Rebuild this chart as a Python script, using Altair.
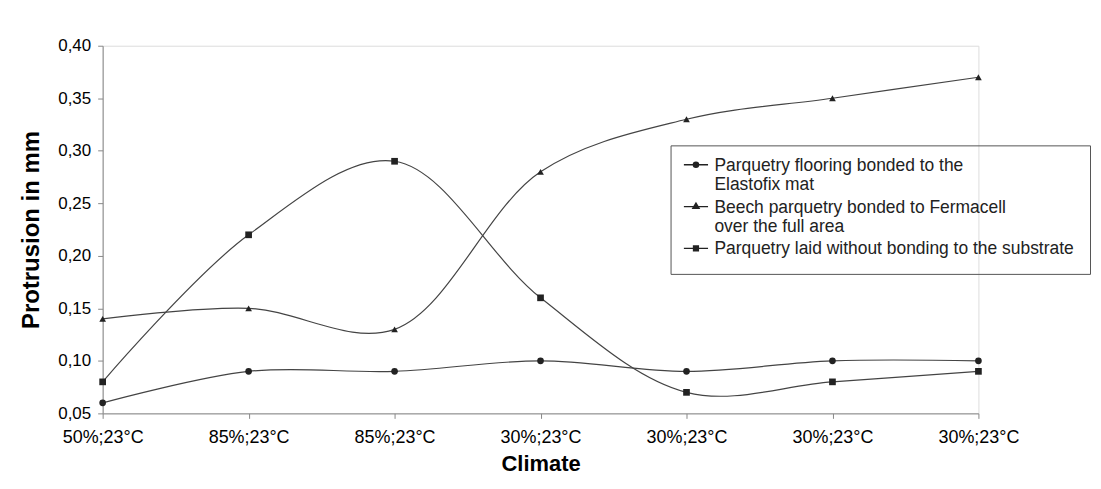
import altair as alt
import pandas as pd

climates = ["50%;23°C", "85%;23°C", "85%;23°C", "30%;23°C", "30%;23°C", "30%;23°C", "30%;23°C"]
series_names = [
    "Parquetry flooring bonded to the|Elastofix mat",
    "Beech parquetry bonded to Fermacell|over the full area",
    "Parquetry laid without bonding to the substrate",
]
elastofix = [0.06, 0.09, 0.09, 0.10, 0.09, 0.10, 0.10]
fermacell = [0.14, 0.15, 0.13, 0.28, 0.33, 0.35, 0.37]
unbonded = [0.08, 0.22, 0.29, 0.16, 0.07, 0.08, 0.09]
y_ticks = [0.05, 0.10, 0.15, 0.20, 0.25, 0.30, 0.35, 0.40]

rows = []
for name, vals in zip(series_names, [elastofix, fermacell, unbonded]):
    for i, v in enumerate(vals):
        rows.append({"idx": i, "value": v, "series": name})
df = pd.DataFrame(rows)

label_array = "[" + ",".join("'" + c + "'" for c in climates) + "]"
FONT = "Liberation Sans"

x_enc = alt.X(
    "idx:Q",
    scale=alt.Scale(domain=[0, 6], nice=False, zero=False),
    axis=alt.Axis(
        values=list(range(7)),
        labelExpr=label_array + "[datum.value]",
        labelFlush=False,
        labelOverlap=False,
        title="Climate",
        grid=False,
        labelFontSize=18,
        labelPadding=10,
        titleFontSize=22,
        titlePadding=7,
        tickSize=5,
    ),
)
y_enc = alt.Y(
    "value:Q",
    scale=alt.Scale(domain=[0.05, 0.40], nice=False, zero=False),
    axis=alt.Axis(
        values=y_ticks,
        labelExpr="replace(format(datum.value, '.2f'), '.', ',')",
        labelFlush=False,
        title="Protrusion in mm",
        grid=False,
        labelFontSize=17,
        labelPadding=7,
        titleFontSize=24,
        titlePadding=14,
        tickSize=5,
    ),
)

base = alt.Chart(df)

lines = base.mark_line(interpolate="catmull-rom", color="#444", strokeWidth=1.2).encode(
    x=x_enc, y=y_enc, detail="series:N"
)

points = base.mark_point(filled=True, color="#222", size=45, opacity=1).encode(
    x=x_enc,
    y=y_enc,
    shape=alt.Shape(
        "series:N",
        sort=series_names,
        scale=alt.Scale(domain=series_names, range=["circle", "triangle-up", "square"]),
        legend=None,
    ),
)

# legend symbols: a short line with a marker drawn by nested outlines (looks filled)
leg_paths = [
    "M-1.4,-0.7H1.4"
    "M-0.3,-0.7A0.3,0.3 0 1,0 0.3,-0.7A0.3,0.3 0 1,0 -0.3,-0.7Z"
    "M-0.14,-0.7A0.14,0.14 0 1,0 0.14,-0.7A0.14,0.14 0 1,0 -0.14,-0.7Z",
    "M-1.4,-0.7H1.4"
    "M0,-1.1L0.36,-0.5L-0.36,-0.5Z"
    "M0,-0.9L0.17,-0.6L-0.17,-0.6Z",
    "M-1.4,-0.7H1.4"
    "M-0.28,-0.98H0.28V-0.42H-0.28Z"
    "M-0.12,-0.82H0.12V-0.58H-0.12Z",
]

legend_layer = base.mark_point(filled=False, color="#222", opacity=0).encode(
    x=x_enc,
    y=y_enc,
    shape=alt.Shape(
        "series:N",
        sort=series_names,
        title=None,
        scale=alt.Scale(domain=series_names, range=leg_paths),
        legend=alt.Legend(
            orient="none",
            legendX=570,
            legendY=100,
            labelExpr="split(datum.label, '|')",
            labelFontSize=17.5,
            labelFont=FONT,
            labelColor="#222",
            labelLimit=600,
            labelBaseline="alphabetic",
            labelOffset=9,
            symbolSize=300,
            symbolOpacity=1,
            symbolStrokeColor="#222",
            symbolStrokeWidth=1.4,
            strokeColor="#555",
            padding=16,
            rowPadding=4,
        ),
    ),
)

chart = (
    alt.layer(lines, points, legend_layer)
    .resolve_scale(shape="independent")
    .properties(
        width=879,
        height=369,
        autosize=alt.AutoSizeParams(type="none"),
        padding={"left": 95, "top": 37, "right": 115, "bottom": 65},
    )
    .configure_view(stroke=None)
    .configure_axis(
        domainColor="#666",
        tickColor="#666",
        labelColor="#555",
        titleColor="#444",
        labelFont=FONT,
        titleFont=FONT,
        titleFontWeight="bold",
    )
    .configure(background="white")
)

chart.save("out.html", embed_options={"renderer": "svg", "actions": False})
